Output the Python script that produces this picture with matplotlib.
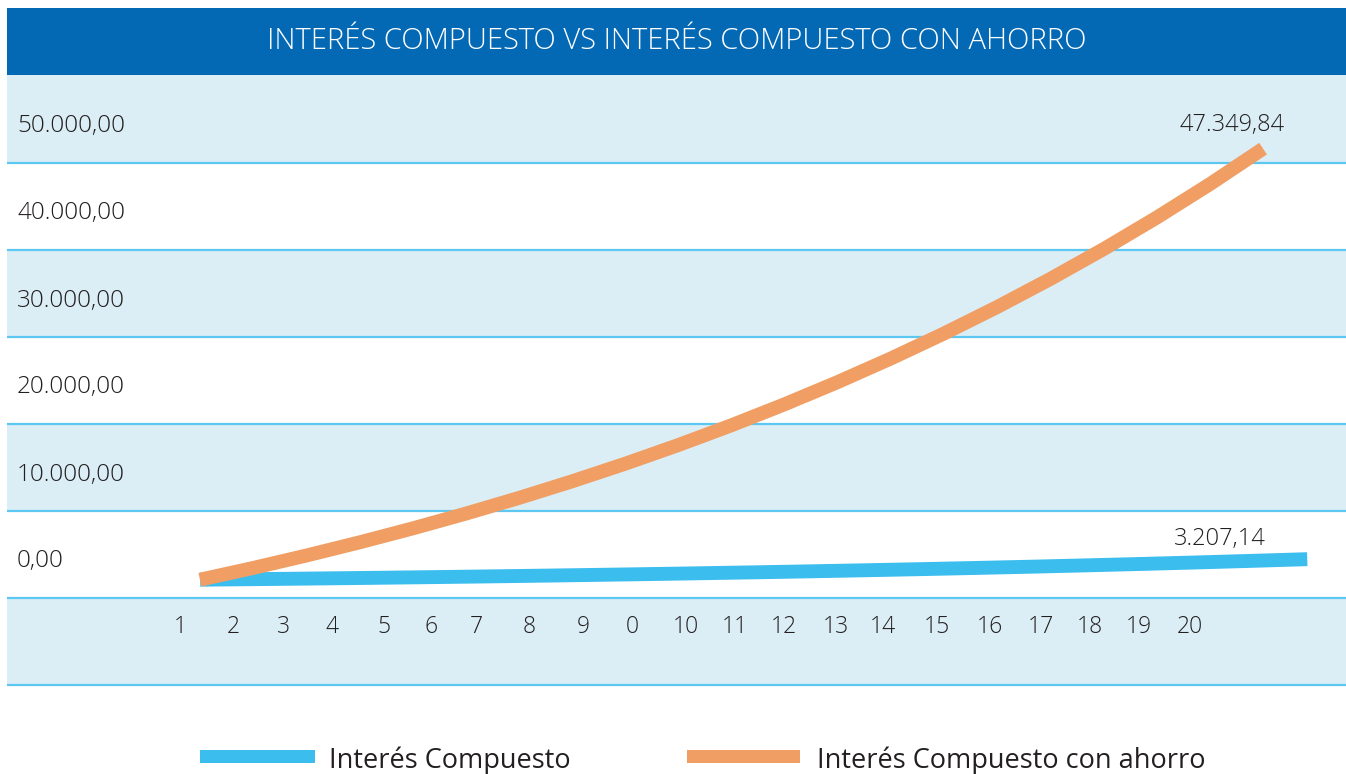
import matplotlib
matplotlib.use("Agg")
import matplotlib.pyplot as plt

# data: years 0..20, 6% yearly, 1000 initial, 1200/yr saved
years = list(range(21))
interes_compuesto = [1000.00, 1060.00, 1123.60, 1191.02, 1262.48, 1338.23, 1418.52,
                     1503.63, 1593.85, 1689.48, 1790.85, 1898.30, 2012.20, 2132.93,
                     2260.90, 2396.56, 2540.35, 2692.77, 2854.34, 3025.60, 3207.14]
con_ahorro = [1000.00, 2260.00, 3595.60, 5011.34, 6512.01, 8102.74, 9788.90,
              11576.23, 13470.81, 15479.06, 17607.80, 19864.27, 22256.13, 24791.49,
              27478.98, 30327.72, 33347.39, 36548.23, 39941.12, 43537.60, 47349.84]
y_labels = ["50.000,00", "40.000,00", "30.000,00", "20.000,00", "10.000,00", "0,00"]
x_labels = ["1", "2", "3", "4", "5", "6", "7", "8", "9", "0", "10", "11", "12",
            "13", "14", "15", "16", "17", "18", "19", "20"]

W, H = 1346, 774
BLUE_DARK = "#0469b4"
BAND = "#dbeef6"
RULE = "#5cc8f2"
C_BLUE = "#3bbdee"
C_ORANGE = "#f09e63"
TXT = "#231f20"
FONT = "Open Sans"

fig = plt.figure(figsize=(W / 100, H / 100), dpi=100)

def px_axes(x0, y0, x1, y1, **kw):
    # axes placed by pixel box (top-left origin)
    return fig.add_axes([x0 / W, 1 - y1 / H, (x1 - x0) / W, (y1 - y0) / H], **kw)

# title bar
tb = px_axes(7, 8, W, 75)
tb.set_facecolor(BLUE_DARK)
tb.set_xticks([]); tb.set_yticks([])
for s in tb.spines.values():
    s.set_visible(False)
tb.text(0.5, 0.5, "INTERÉS COMPUESTO VS INTERÉS COMPUESTO CON AHORRO",
        transform=tb.transAxes, ha="center", va="center", color="white",
        fontsize=21, family=FONT, fontweight="light")

# background bands (pixel units)
bg = px_axes(7, 75, W, 688)
bg.set_xlim(7, W)
bg.set_ylim(688, 75)
bg.axis("off")
edges = [75, 163, 250, 337, 424, 511, 598, 685]
for i in range(len(edges) - 1):
    if i % 2 == 0:
        bg.axhspan(edges[i], edges[i + 1], color=BAND, lw=0)
for e in edges[1:]:
    bg.axhline(e, color=RULE, lw=1.6)
for i, lab in enumerate(y_labels):
    yc = (edges[i] + edges[i + 1]) / 2 + 7
    bg.text(17, yc, lab, ha="left", va="center", fontsize=17.5, color=TXT,
            family=FONT, fontweight="light")
x_pos = [180, 233, 283, 332, 384, 431, 476, 529, 583, 632, 686, 735, 784,
         836, 883, 937, 990, 1041, 1090, 1139, 1190]
for xp, lab in zip(x_pos, x_labels):
    bg.text(xp, 627, lab, ha="center", va="center", fontsize=16.5, color=TXT,
            family=FONT, fontweight="light")

# data axes
ylim = (-10323, 55269)
ax_b = px_axes(7, 75, W, 685)
ax_b.patch.set_alpha(0)
ax_b.axis("off")
ax_b.set_xlim(-3.49, 20.70)
ax_b.set_ylim(*ylim)
ax_b.plot(years, interes_compuesto, color=C_BLUE, lw=10, solid_capstyle="butt")
ax_b.annotate("3.207,14", (years[-1], interes_compuesto[-1]), xytext=(-87, 20),
              textcoords="offset pixels", ha="center", va="center", fontsize=17,
              color=TXT, family=FONT, fontweight="light")

ax_o = px_axes(7, 75, W, 685)
ax_o.patch.set_alpha(0)
ax_o.axis("off")
ax_o.set_xlim(-3.63, 21.56)
ax_o.set_ylim(*ylim)
ax_o.plot(years, con_ahorro, color=C_ORANGE, lw=10, solid_capstyle="butt")
ax_o.annotate("47.349,84", (years[-1], con_ahorro[-1]), xytext=(-31, 24),
              textcoords="offset pixels", ha="center", va="center", fontsize=17,
              color=TXT, family=FONT, fontweight="light")

# legend
lg = px_axes(0, 690, W, H)
lg.set_xlim(0, W)
lg.set_ylim(H, 690)
lg.axis("off")
lg.axhspan(750, 763, xmin=200 / W, xmax=315 / W, color=C_BLUE, lw=0)
lg.axhspan(750, 763, xmin=687 / W, xmax=800 / W, color=C_ORANGE, lw=0)
lg.text(329, 761, "Interés Compuesto", ha="left", va="center", fontsize=19.5,
        color=TXT, family=FONT)
lg.text(817, 761, "Interés Compuesto con ahorro", ha="left", va="center",
        fontsize=19.5, color=TXT, family=FONT)

fig.savefig("out.png", dpi=100, facecolor="white")
